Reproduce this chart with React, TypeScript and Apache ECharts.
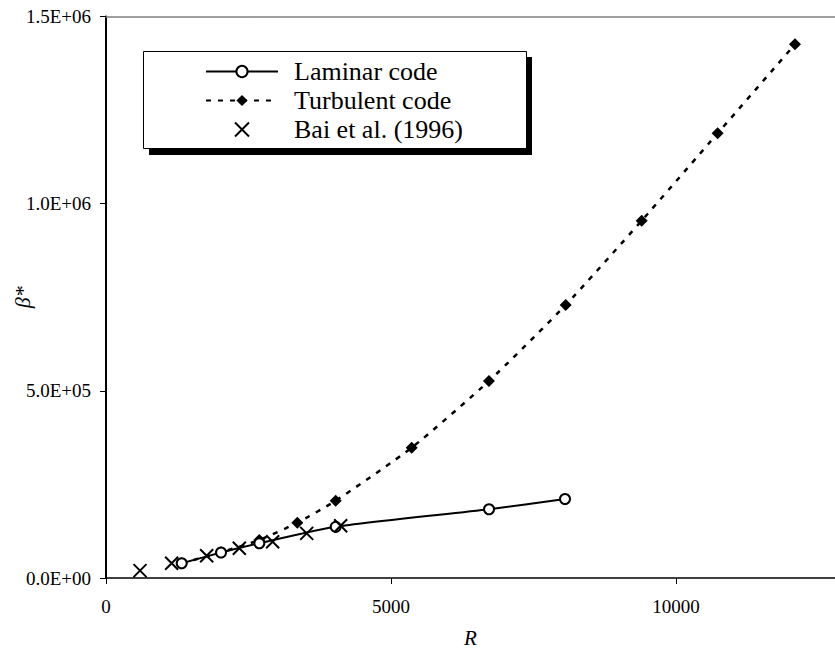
import React, { useEffect, useRef } from "react";
import * as echarts from "echarts";

const laminarR = [1328, 2018, 2690, 4030, 6720, 8053];
const laminarBeta = [39300, 68000, 92700, 136700, 183500, 211000];

const turbulentR = [1328, 2018, 2690, 3357, 4030, 5363, 6719, 8065, 9398, 10731, 12088];
const turbulentBeta = [39300, 68700, 101500, 147700, 206500, 348100, 526300, 729300, 954500, 1188000, 1425700];

const baiR = [597, 1152, 1766, 2339, 2924, 3521, 4117];
const baiBeta = [19600, 39200, 59600, 79300, 97000, 119300, 139700];

const xTicks = [0, 5000, 10000];
const seriesNames = ["Laminar code", "Turbulent code", "Bai et al. (1996)"];

const FONT = "Liberation Serif";

function sci(v: number): string {
  const [m, e] = v.toExponential(1).split("e");
  const sign = e[0] === "-" ? "-" : "+";
  const digits = e.replace(/^[+-]/, "").padStart(2, "0");
  return `${m}E${sign}${digits}`;
}

export default function App() {
  const ref = useRef<HTMLDivElement>(null);
  useEffect(() => {
    if (!ref.current) return;
    const chart = echarts.init(ref.current, undefined, { renderer: "svg" });
    const pair = (xs: number[], ys: number[]) => xs.map((x, i) => [x, ys[i]]);
    chart.setOption({
      animation: false,
      backgroundColor: "#ffffff",
      textStyle: { fontFamily: FONT },
      grid: { left: 106, right: 0, top: 16.5, bottom: 76, containLabel: false, outerBoundsMode: "none" },
      xAxis: [
        {
          type: "value",
          min: 0,
          max: 12790,
          interval: 5000,
          name: "R",
          nameLocation: "middle",
          nameGap: 49,
          nameMoveOverlap: false,
          nameTextStyle: { fontFamily: FONT, fontStyle: "italic", fontSize: 21, color: "#000" },
          axisLine: { show: true, onZero: false, lineStyle: { color: "#000", width: 1.5 } },
          axisTick: { show: true, inside: false, length: 6, customValues: xTicks, lineStyle: { color: "#000", width: 1 } },
          axisLabel: {
            customValues: xTicks,
            margin: 19,
            fontFamily: FONT,
            fontSize: 19,
            color: "#000",
            formatter: (v: number) => String(Math.round(v)),
          },
          splitLine: { show: false },
        },
        {
          type: "value",
          position: "top",
          min: 0,
          max: 12790,
          axisLine: { show: true, onZero: false, lineStyle: { color: "#808080", width: 1.5 } },
          axisTick: { show: false },
          axisLabel: { show: false },
          splitLine: { show: false },
        },
      ],
      yAxis: {
        type: "value",
        min: 0,
        max: 1500000,
        interval: 500000,
        name: "β*",
        nameLocation: "middle",
        nameRotate: 90,
        nameGap: 73,
        nameMoveOverlap: false,
        nameTextStyle: { fontFamily: FONT, fontStyle: "italic", fontSize: 22, color: "#000" },
        axisLine: { show: true, onZero: false, lineStyle: { color: "#000", width: 2 } },
        axisTick: { show: true, inside: false, length: 6, lineStyle: { color: "#000", width: 1 } },
        axisLabel: { formatter: (v: number) => sci(v), margin: 15, fontFamily: FONT, fontSize: 19, color: "#000" },
        splitLine: { show: false },
      },
      graphic: [
        { type: "rect", z: 1, shape: { x: 149, y: 57, width: 383, height: 98 }, style: { fill: "#000" } },
        { type: "rect", z: 2, shape: { x: 143.5, y: 51.5, width: 383, height: 97 }, style: { fill: "#fff", stroke: "#000", lineWidth: 1 } },
      ],
      legend: {
        z: 10,
        orient: "vertical",
        left: 205,
        top: 57,
        padding: 0,
        itemWidth: 72,
        itemHeight: 14,
        itemGap: 0,
        data: seriesNames,
        textStyle: { fontFamily: FONT, fontSize: 26, color: "#000", lineHeight: 29, padding: [0, 0, 0, 11] },
      },
      series: [
        {
          name: seriesNames[0],
          type: "line",
          data: pair(laminarR, laminarBeta),
          smooth: 0.2,
          symbol: "emptyCircle",
          symbolSize: 10,
          lineStyle: { color: "#000", width: 2 },
          itemStyle: { color: "#000", borderColor: "#000", borderWidth: 2 },
          z: 3,
        },
        {
          name: seriesNames[1],
          type: "line",
          data: pair(turbulentR, turbulentBeta),
          smooth: 0.2,
          symbol: "diamond",
          symbolSize: 12,
          lineStyle: { color: "#000", width: 2.5, type: [5, 7] },
          itemStyle: { color: "#000" },
          z: 2,
        },
        {
          name: seriesNames[2],
          type: "scatter",
          data: pair(baiR, baiBeta),
          symbol: "path://M0,0L10,10M10,0L0,10",
          symbolSize: 13,
          itemStyle: { color: "rgba(0,0,0,0)", borderColor: "#000", borderWidth: 2, opacity: 1 },
          z: 4,
        },
      ],
    });
    return () => chart.dispose();
  }, []);
  return (
    <div
      ref={ref}
      style={{ position: "fixed", left: 0, top: 0, width: 835, height: 654 }}
    />
  );
}
